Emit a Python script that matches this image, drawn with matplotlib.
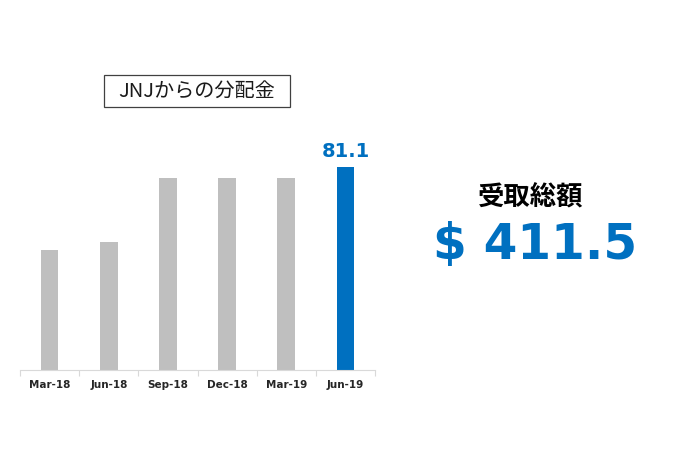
import numpy as np
import matplotlib.pyplot as plt
from matplotlib.patches import Rectangle

plt.rcParams['font.family'] = ['DejaVu Sans']

# dividend per quarter (USD)
quarters = ['Mar-18', 'Jun-18', 'Sep-18', 'Dec-18', 'Mar-19', 'Jun-19']
dividends = [48.0, 51.4, 77.0, 77.0, 77.0, 81.1]
total_label = '411.5'
title_text = 'JNJからの分配金'
total_title = '受取総額'

gray = '#BFBFBF'
blue = '#0070C0'
cjk = ['Noto Sans CJK JP', 'DejaVu Sans']
W, H = 675, 457

fig = plt.figure(figsize=(6.75, 4.57), dpi=100)
ax = fig.add_axes([20 / W, 87 / H, 355 / W, 250 / H])

x = np.arange(len(quarters))
colors = [gray] * (len(quarters) - 1) + [blue]
ax.bar(x, dividends, width=0.30, color=colors)

ax.set_xlim(-0.5, len(quarters) - 0.5)
ax.set_ylim(0, 100)
ax.set_yticks([])
for s in ['top', 'right', 'left']:
    ax.spines[s].set_visible(False)
ax.spines['bottom'].set_color('#D9D9D9')
ax.spines['bottom'].set_linewidth(0.8)

# category labels, tick marks between categories (Excel style)
ax.set_xticks(x)
ax.set_xticklabels(quarters, fontsize=7.5, fontweight='bold', color='#262626')
ax.tick_params(axis='x', length=0, pad=7)
ax.set_xticks(np.arange(-0.5, len(quarters)), minor=True)
ax.tick_params(axis='x', which='minor', length=4, color='#D9D9D9', width=0.8)

# value label on the latest bar
ax.text(x[-1], dividends[-1] + 2.5, f'{dividends[-1]:.1f}', ha='center',
        va='bottom', fontsize=14, fontweight='bold', color=blue)

# boxed title
fig.patches.append(Rectangle((104 / W, 1 - 107 / H), 186 / W, 32 / H,
                             transform=fig.transFigure, fill=False,
                             ec='#404040', lw=0.9))
fig.text(197 / W, 1 - 91 / H, title_text, ha='center', va='center',
         fontsize=14.5, family=cjk, color='#1a1a1a')

# total received
fig.text(531 / W, 1 - 198 / H, total_title, ha='center', va='center',
         fontsize=19, fontweight='bold', family=cjk, color='black')
fig.text(535 / W, 1 - 245 / H, '$ ' + total_label, ha='center',
         va='center', fontsize=35, fontweight='bold', color=blue)

fig.savefig('out.png', dpi=100, facecolor='white')
